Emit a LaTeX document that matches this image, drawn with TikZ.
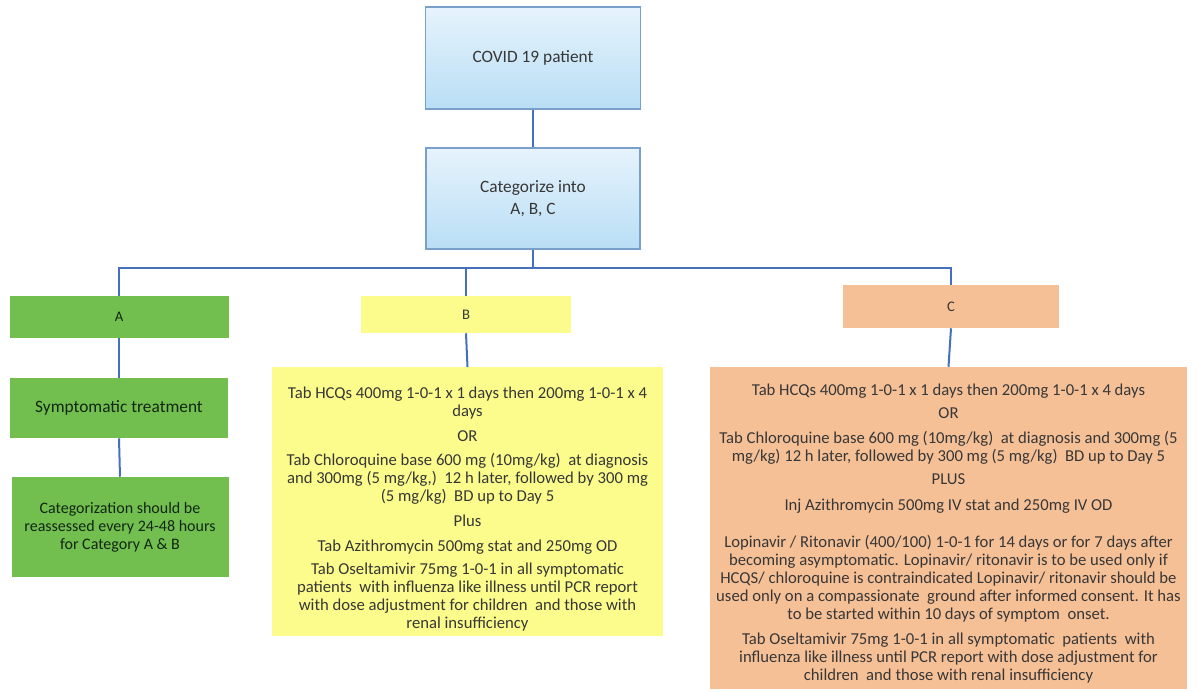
\documentclass[tikz,border=0pt]{standalone}
\usepackage{fontspec}
\setmainfont{Carlito}
\definecolor{linkblue}{RGB}{70,112,190}
\definecolor{edgeblue}{RGB}{120,160,200}
\definecolor{skytop}{RGB}{230,243,252}
\definecolor{skybot}{RGB}{185,222,245}
\definecolor{leaf}{RGB}{114,191,80}
\definecolor{lemon}{RGB}{252,252,140}
\definecolor{peach}{RGB}{246,192,150}
\definecolor{ink}{RGB}{55,55,55}

\begin{document}
\begin{tikzpicture}[x=0.75pt, y=-0.75pt, font=\fontsize{12.5}{13.5}\selectfont, text=ink,
    link/.style={draw=linkblue, line width=1.5pt},
    skybox/.style={draw=edgeblue, line width=0.8pt, top color=skytop, bottom color=skybot, align=center, font=\fontsize{13}{15}\selectfont},
    abox/.style={fill=leaf, align=center, text=ink!80!green!40!black},
    bbox/.style={fill=lemon, align=center},
    cbox/.style={fill=peach, align=center},
    letter/.style={font=\fontsize{11}{13}\selectfont}]
    \useasboundingbox (0,0) rectangle (1199,692);

    % top of the tree
    \node[skybox, minimum width=161.25pt, minimum height=76.5pt] (covid) at (533,58) {COVID 19 patient};
    \node[skybox, minimum width=160.5pt, minimum height=75.75pt] (categ) at (533,198.5) {Categorize into\\[2pt] A, B, C};
    \draw[link] (covid.south) -- (categ.north);

    % the three categories
    \node[abox, letter, minimum width=164.25pt, minimum height=31.5pt] (A) at (119,317) {A};
    \node[bbox, letter, minimum width=157.5pt, minimum height=27.75pt] (B) at (466,314.5) {B};
    \node[cbox, letter, minimum width=162pt, minimum height=32.25pt] (C) at (951,306.5) {C};

    \coordinate (bus) at (533,268);
    \draw[link] (categ.south) -- (bus);
    \draw[link] (A.north) -- (A.north |- bus) -| (C.north);
    \draw[link] (B.north) -- (B.north |- bus);

    % category A
    \node[abox, minimum width=163.5pt, minimum height=45pt, font=\fontsize{13}{15}\selectfont] (symp) at (119,408) {Symptomatic treatment};
    \node[abox, minimum width=162.75pt, minimum height=75pt, font=\fontsize{12}{13.5}\selectfont] (reass) at (120,527)
        {Categorization should be\\ reassessed every 24-48 hours\\ for Category A \& B};
    \draw[link] (A.south) -- (symp.north);
    \draw[link] (symp.south) -- (reass.north);

    % category B
    \node[bbox, minimum width=293.25pt, minimum height=194.25pt] (btxt) at (467.5,501.5)
        {\rule{0pt}{20pt}Tab HCQs 400mg 1-0-1 x 1 days then 200mg 1-0-1 x 4\\ days\\[5pt]
         OR\\[5pt]
         Tab Chloroquine base 600 mg (10mg/kg)\ \ at diagnosis\\ and 300mg (5 mg/kg,)\ \ 12 h later, followed by 300 mg\\ (5 mg/kg)\ \ BD up to Day 5\\[5pt]
         Plus\\[5pt]
         Tab Azithromycin 500mg stat and 250mg OD\\[4pt]
         Tab Oseltamivir 75mg 1-0-1 in all symptomatic\\ patients\ \ with influenza like illness until PCR report\\ with dose adjustment for children\ \ and those with\\ renal insufficiency};
    \draw[link] (B.south) -- (btxt.north);

    % category C
    \node[cbox, minimum width=357.75pt, minimum height=241.5pt] (ctxt) at (948.5,528)
        {\rule{0pt}{17pt}Tab HCQs 400mg 1-0-1 x 1 days then 200mg 1-0-1 x 4 days\\[4pt]
         OR\\[5pt]
         Tab Chloroquine base 600 mg (10mg/kg)\ \ at diagnosis and 300mg (5\\ mg/kg) 12 h later, followed by 300 mg (5 mg/kg)\ \ BD up to Day 5\\[4pt]
         PLUS\\[6pt]
         Inj Azithromycin 500mg IV stat and 250mg IV OD\\[14pt]
         Lopinavir / Ritonavir (400/100) 1-0-1 for 14 days or for 7 days after\\ becoming asymptomatic. Lopinavir/ ritonavir is to be used only if\\ HCQS/ chloroquine is contraindicated Lopinavir/ ritonavir should be\\ used only on a compassionate\ \ ground after informed consent. It has\\ to be started within 10 days of symptom\ \ onset.\\[5pt]
         Tab Oseltamivir 75mg 1-0-1 in all symptomatic\ \ patients\ \ with\\ influenza like illness until PCR report with dose adjustment for\\ children\ \ and those with renal insufficiency};
    \draw[link] (C.south) -- (ctxt.north);
\end{tikzpicture}
\end{document}
